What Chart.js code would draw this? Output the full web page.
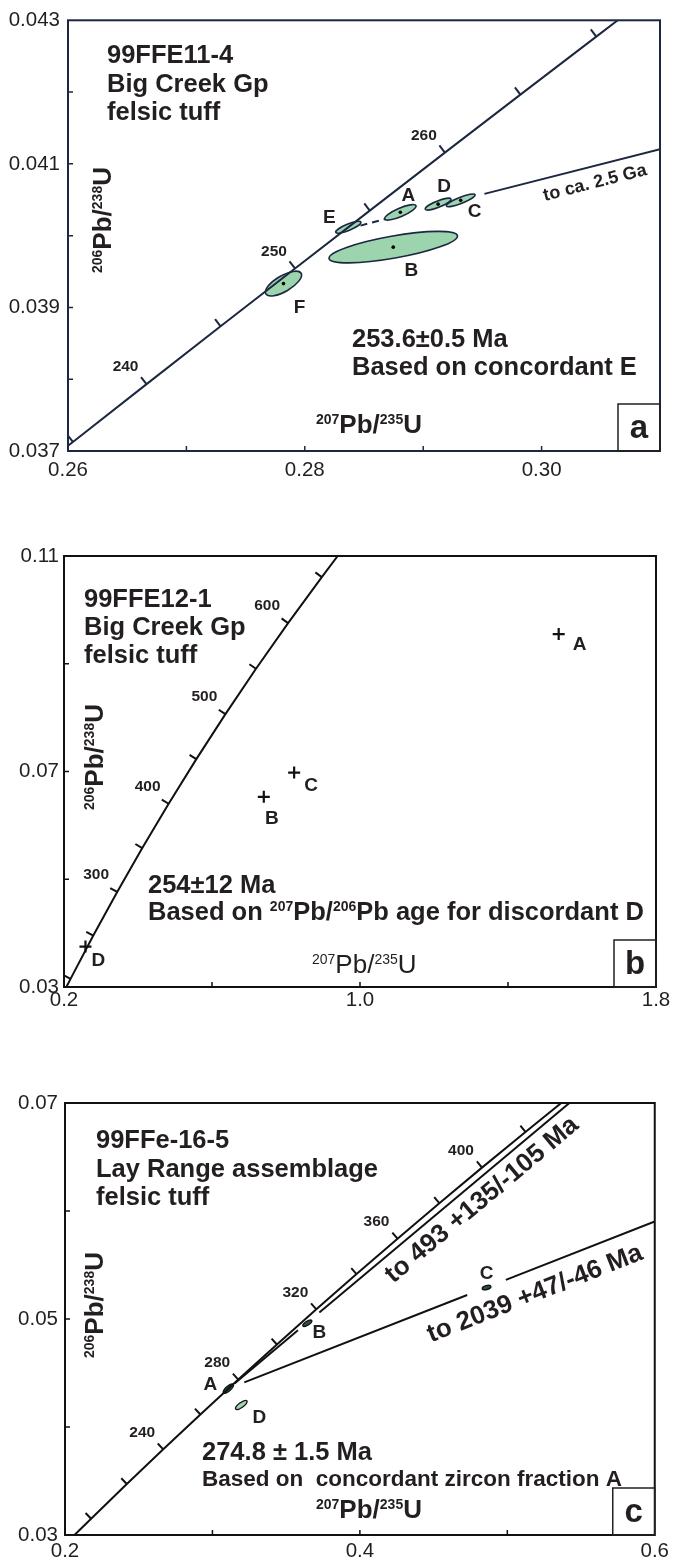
<!DOCTYPE html>
<html>
<head>
<meta charset="utf-8">
<title>U-Pb concordia diagrams</title>
<script src="https://cdn.jsdelivr.net/npm/chart.js@4.4.1/dist/chart.umd.min.js"></script>
<style>
  html, body { margin: 0; padding: 0; background: #fff; }
  body { width: 673px; height: 1564px; position: relative; overflow: hidden; }
  canvas { position: absolute; left: 0; }
</style>
</head>
<body>
<canvas id="chartA" width="673" height="505" style="top:0px"></canvas>
<canvas id="chartB" width="673" height="520" style="top:505px"></canvas>
<canvas id="chartC" width="673" height="539" style="top:1025px"></canvas>
<script>
// ---- panel a : 99FFE11-4 ----
const agesA = [235, 240, 245, 250, 255, 260, 265, 270];
const concXA = [0.260414, 0.266635, 0.272888, 0.279173, 0.285487, 0.291831, 0.298209, 0.304618];
const concYA = [0.037126, 0.037932, 0.038737, 0.039543, 0.040349, 0.041157, 0.041965, 0.042773];
const concEndsA = [[0.26, 0.037074], [0.30643, 0.043]];
const ageLabelsA = [240, 250, 260];
const fracA = ['A', 'B', 'C', 'D', 'E', 'F'];
const fracXA = [0.28807, 0.28747, 0.29317, 0.29126, 0.28368, 0.27820];
const fracYA = [0.040325, 0.039840, 0.040492, 0.040439, 0.040117, 0.039332];
const errXA = [0.001328, 0.005423, 0.00121, 0.001087, 0.001062, 0.001528];
const errYA = [0.000108, 0.0002195, 0.0000889, 0.0000821, 0.0000822, 0.000173];
const rhoA = [0.81, 0.70, 0.85, 0.82, 0.82, 0.69];
const dottedA = ['A', 'B', 'C', 'D', 'F'];
const discDashA = [[0.2847, 0.04014], [0.2868, 0.04023]];
const discSolidA = [[0.29517, 0.040582], [0.31, 0.041205]];

// ---- panel b : 99FFE12-1 ----
const agesB = [200, 250, 300, 350, 400, 450, 500, 550, 600, 650];
const concXB = [0.217708, 0.279173, 0.343737, 0.411564, 0.482811, 0.557659, 0.63628, 0.718875, 0.805631, 0.896771];
const concYB = [0.031511, 0.039543, 0.047638, 0.055795, 0.064016, 0.0723, 0.08065, 0.089065, 0.097545, 0.106089];
const concEndsB = [[0.206429, 0.03], [0.939723, 0.11]];
const ageLabelsB = [300, 400, 500, 600];
const fracB = ['A', 'B', 'C', 'D'];
const fracXB = [1.537, 0.740, 0.822, 0.258];
const fracYB = [0.0955, 0.0653, 0.0698, 0.0375];

// ---- panel c : 99FFe-16-5 ----
const agesC = [200, 220, 240, 260, 280, 300, 320, 340, 360, 380, 400, 420];
const concXC = [0.217708, 0.241931, 0.266635, 0.291831, 0.317528, 0.343737, 0.370467, 0.397729, 0.425534, 0.453891, 0.482811, 0.512308];
const concYC = [0.031511, 0.034717, 0.037932, 0.041157, 0.044392, 0.047638, 0.050893, 0.054159, 0.057433, 0.06072, 0.064016, 0.067322];
const concEndsC = [[0.206429, 0.03], [0.536571, 0.07]];
const ageLabelsC = [240, 280, 320, 360, 400];
const fracC = ['A', 'B', 'C', 'D'];
const fracXC = [0.3108, 0.36435, 0.48593, 0.31957];
const fracYC = [0.04355, 0.04961, 0.05291, 0.04204];
const errXC = [0.00353, 0.00311, 0.00296, 0.00399];
const errYC = [0.000426, 0.000289, 0.000208, 0.000417];
const rhoC = [0.74, 0.69, 0.41, 0.76];
const disc493C = [[[0.3150, 0.04403], [0.3580, 0.04895]], [[0.3725, 0.05060], [0.5421, 0.07]]];
const disc2039C = [[[0.3216, 0.04413], [0.4728, 0.05222]], [[0.4990, 0.05362], [0.6, 0.05903]]];

// ---- styling ----
const FONT = '"Liberation Sans", Arial, Helvetica, sans-serif';
const INK = '#231f20';
const NAVY = '#1c2740';
const GREEN = '#9cd4ae';
const DARKGREEN = '#2c5239';
const BIG = 25.5;

function font(size, bold) {
  return (bold ? 'bold ' : '') + size + 'px ' + FONT;
}

function xy(xs, ys) {
  return xs.map((x, i) => ({ x: x, y: ys[i] }));
}

function pairs(arr) {
  return arr.map(p => ({ x: p[0], y: p[1] }));
}

// concordia age ticks point away from the curve, square to it in pixel space
function tickAngle(ctx) {
  const pts = ctx.dataset.data, i = ctx.dataIndex;
  const a = pts[Math.max(i - 1, 0)], b = pts[Math.min(i + 1, pts.length - 1)];
  const xs = ctx.chart.scales.x, ys = ctx.chart.scales.y;
  const dx = xs.getPixelForValue(b.x) - xs.getPixelForValue(a.x);
  const dy = ys.getPixelForValue(b.y) - ys.getPixelForValue(a.y);
  return Math.atan2(dy, dx) * 180 / Math.PI - 90;
}

function line(points, color, width, dash) {
  return {
    data: points, showLine: true, borderColor: color, borderWidth: width,
    borderDash: dash || [], pointRadius: 0, tension: 0, fill: false
  };
}

function ageTicks(points, color, len) {
  return {
    data: points, showLine: false, pointStyle: 'dash', pointRadius: len,
    pointBorderWidth: 2, pointBorderColor: color, pointRotation: tickAngle
  };
}

// text with ^123 superscripts
function drawRich(ctx, str, x, y, o) {
  const size = o.size, sup = Math.round(size * 0.54);
  const parts = str.split(/(\^\d+)/).filter(Boolean)
    .map(p => p[0] === '^' ? { t: p.slice(1), s: true } : { t: p, s: false });
  ctx.save();
  ctx.translate(x, y);
  if (o.angle) ctx.rotate(o.angle);
  ctx.fillStyle = o.color || INK;
  ctx.textAlign = 'left';
  ctx.textBaseline = o.baseline || 'alphabetic';
  let total = 0;
  parts.forEach(p => {
    ctx.font = font(p.s ? sup : size, o.bold);
    p.w = ctx.measureText(p.t).width;
    total += p.w;
  });
  let cx = o.align === 'center' ? -total / 2 : 0;
  parts.forEach(p => {
    ctx.font = font(p.s ? sup : size, o.bold);
    ctx.fillText(p.t, cx, p.s ? -size * 0.34 : 0);
    cx += p.w;
  });
  ctx.restore();
}

function decor(spec) {
  return {
    id: 'decor',
    beforeDatasetsDraw(chart) {
      const e = spec.ellipses;
      if (!e) return;
      const { ctx, chartArea: ca, scales: { x: xs, y: ys } } = chart;
      ctx.save();
      ctx.beginPath();
      ctx.rect(ca.left, ca.top, ca.width, ca.height);
      ctx.clip();
      e.xs.forEach((xv, i) => {
        const cx = xs.getPixelForValue(xv), cy = ys.getPixelForValue(e.ys[i]);
        const sx = Math.abs(xs.getPixelForValue(xv + e.sx[i]) - cx);
        const sy = Math.abs(ys.getPixelForValue(e.ys[i] + e.sy[i]) - cy);
        const cxx = sx * sx, cyy = sy * sy, cxy = -e.rho[i] * sx * sy;
        const mid = (cxx + cyy) / 2;
        const d = Math.sqrt(((cxx - cyy) / 2) ** 2 + cxy * cxy);
        const ang = 0.5 * Math.atan2(2 * cxy, cxx - cyy);
        ctx.beginPath();
        ctx.ellipse(cx, cy, Math.sqrt(mid + d), Math.sqrt(Math.max(mid - d, 0.5)), ang, 0, Math.PI * 2);
        ctx.fillStyle = e.fill[i];
        ctx.fill();
        ctx.lineWidth = e.width;
        ctx.strokeStyle = e.stroke;
        ctx.stroke();
      });
      ctx.restore();
    },
    afterDatasetsDraw(chart) {
      const { ctx, chartArea: ca, scales: { x: xs, y: ys } } = chart;
      ctx.save();
      ctx.strokeStyle = spec.color;
      ctx.lineWidth = 2;
      ctx.strokeRect(ca.left, ca.top, ca.width, ca.height);

      // short inward tick marks
      ctx.lineWidth = 1.5;
      ctx.beginPath();
      xs.ticks.forEach(t => {
        if (t.value <= xs.min || t.value >= xs.max) return;
        const px = xs.getPixelForValue(t.value);
        ctx.moveTo(px, ca.bottom);
        ctx.lineTo(px, ca.bottom - 5);
      });
      ys.ticks.forEach(t => {
        if (t.value <= ys.min || t.value >= ys.max) return;
        const py = ys.getPixelForValue(t.value);
        ctx.moveTo(ca.left, py);
        ctx.lineTo(ca.left + 5, py);
      });
      ctx.stroke();

      // panel letter box
      ctx.lineWidth = 1.5;
      ctx.strokeStyle = INK;
      ctx.strokeRect(ca.right - 42, ca.bottom - 47, 42, 47);
      ctx.restore();
      drawRich(ctx, spec.letter, ca.right - 21, ca.bottom - 22, { size: 33, bold: true, align: 'center', baseline: 'middle' });

      const a = spec.ageLabels;
      a.show.forEach(age => {
        const i = a.ages.indexOf(age);
        drawRich(ctx, String(age),
          xs.getPixelForValue(a.xs[i]) + a.offset[0], ys.getPixelForValue(a.ys[i]) + a.offset[1],
          { size: 15.5, bold: true, align: 'center', baseline: 'middle' });
      });

      const p = spec.pointLabels;
      p.names.forEach((n, i) => {
        drawRich(ctx, n,
          xs.getPixelForValue(p.xs[i]) + p.offsets[i][0], ys.getPixelForValue(p.ys[i]) + p.offsets[i][1],
          { size: 19, bold: true, align: 'center', baseline: 'middle' });
      });

      spec.texts.forEach(t => {
        let angle = (t.angle || 0) * Math.PI / 180;
        if (t.along) {
          const [u, v] = t.along;
          angle = Math.atan2(ys.getPixelForValue(v[1]) - ys.getPixelForValue(u[1]),
                             xs.getPixelForValue(v[0]) - xs.getPixelForValue(u[0]));
        }
        drawRich(ctx, t.t, t.x, t.y, {
          size: t.size, bold: t.bold !== false, align: t.align || 'left',
          baseline: t.baseline || 'alphabetic', angle: angle
        });
      });
    }
  };
}

function axis(a, dir) {
  return {
    type: 'linear', min: a.min, max: a.max,
    grid: { display: false, drawTicks: false },
    border: { display: false },
    afterFit: s => { if (dir === 'x') s.height = a.size; else s.width = a.size; },
    ticks: {
      stepSize: a.step, autoSkip: false, maxRotation: 0, minRotation: 0, padding: a.pad,
      color: INK, font: { family: FONT, size: 20.5 },
      callback: (v, i) => (i % 2 ? '' : Number(v).toFixed(a.digits))
    }
  };
}

function concordiaChart(id, cfg) {
  return new Chart(document.getElementById(id), {
    type: 'scatter',
    data: { datasets: cfg.datasets },
    options: {
      responsive: false,
      animation: false,
      events: [],
      layout: { padding: cfg.padding },
      plugins: { legend: { display: false }, tooltip: { enabled: false } },
      scales: { x: axis(cfg.x, 'x'), y: axis(cfg.y, 'y') }
    },
    plugins: [decor(cfg.decor)]
  });
}

// ---- a ----
const concPtsA = xy(concXA, concYA);
concordiaChart('chartA', {
  padding: { top: 17, right: 13, bottom: 14, left: 0 },
  x: { min: 0.26, max: 0.31, step: 0.01, digits: 2, size: 40, pad: 7 },
  y: { min: 0.037, max: 0.043, step: 0.001, digits: 3, size: 68, pad: 8 },
  datasets: [
    {
      data: xy(fracXA, fracYA).filter((p, i) => dottedA.includes(fracA[i])),
      showLine: false, pointRadius: 1.8, pointBackgroundColor: '#000', pointBorderWidth: 0
    },
    line([pairs(concEndsA)[0], ...concPtsA, pairs(concEndsA)[1]], NAVY, 2),
    ageTicks(concPtsA, NAVY, 9),
    line(pairs(discDashA), NAVY, 2, [7, 5]),
    line(pairs(discSolidA), NAVY, 2)
  ],
  decor: {
    letter: 'a',
    color: NAVY,
    ellipses: {
      xs: fracXA, ys: fracYA, sx: errXA, sy: errYA, rho: rhoA,
      fill: fracA.map(() => GREEN), stroke: NAVY, width: 1.6
    },
    ageLabels: { ages: agesA, xs: concXA, ys: concYA, show: ageLabelsA, offset: [-21, -17] },
    pointLabels: {
      names: fracA, xs: fracXA, ys: fracYA,
      offsets: [[8, -17], [18, 24], [14, 11], [6, -17], [-19, -9], [16, 24]]
    },
    texts: [
      { t: '99FFE11-4', x: 107, y: 63, size: BIG },
      { t: 'Big Creek Gp', x: 107, y: 92, size: BIG },
      { t: 'felsic tuff', x: 107, y: 120, size: BIG },
      { t: '253.6±0.5 Ma', x: 352, y: 347, size: BIG },
      { t: 'Based on concordant E', x: 352, y: 375, size: BIG },
      { t: '^207Pb/^235U', x: 316, y: 433, size: 26 },
      { t: '^206Pb/^238U', x: 111, y: 273, size: 26, angle: -90 },
      { t: 'to ca. 2.5 Ga', x: 595, y: 183, size: 18, align: 'center', baseline: 'middle', along: discSolidA }
    ]
  }
});

// ---- b ----
const concPtsB = xy(concXB, concYB);
concordiaChart('chartB', {
  padding: { top: 51, right: 17, bottom: 8, left: 0 },
  x: { min: 0.2, max: 1.8, step: 0.4, digits: 1, size: 30, pad: 1 },
  y: { min: 0.03, max: 0.11, step: 0.02, digits: 2, size: 64, pad: 5 },
  datasets: [
    {
      data: xy(fracXB, fracYB), showLine: false, pointStyle: 'cross',
      pointRadius: 6, pointBorderWidth: 2.2, pointBorderColor: '#111'
    },
    line([pairs(concEndsB)[0], ...concPtsB, pairs(concEndsB)[1]], '#111', 2),
    ageTicks(concPtsB, '#111', 8)
  ],
  decor: {
    letter: 'b',
    color: '#111',
    ageLabels: { ages: agesB, xs: concXB, ys: concYB, show: ageLabelsB, offset: [-21, -17] },
    pointLabels: {
      names: fracB, xs: fracXB, ys: fracYB,
      offsets: [[21, 11], [8, 22], [17, 13], [13, 14]]
    },
    texts: [
      { t: '99FFE12-1', x: 84, y: 102, size: BIG },
      { t: 'Big Creek Gp', x: 84, y: 130, size: BIG },
      { t: 'felsic tuff', x: 84, y: 158, size: BIG },
      { t: '254±12 Ma', x: 148, y: 388, size: BIG },
      { t: 'Based on ^207Pb/^206Pb age for discordant D', x: 148, y: 415, size: BIG },
      { t: '^207Pb/^235U', x: 312, y: 468, size: 26, bold: false },
      { t: '^206Pb/^238U', x: 103, y: 305, size: 26, angle: -90 }
    ]
  }
});

// ---- c ----
const concPtsC = xy(concXC, concYC);
concordiaChart('chartC', {
  padding: { top: 78, right: 16, bottom: 5, left: 0 },
  x: { min: 0.2, max: 0.6, step: 0.1, digits: 1, size: 24, pad: 4 },
  y: { min: 0.03, max: 0.07, step: 0.01, digits: 2, size: 65, pad: 7 },
  datasets: [
    line([pairs(concEndsC)[0], ...concPtsC, pairs(concEndsC)[1]], '#111', 2),
    ageTicks(concPtsC, '#111', 8),
    line(pairs(disc493C[0]), '#111', 2),
    line(pairs(disc493C[1]), '#111', 2),
    line(pairs(disc2039C[0]), '#111', 2),
    line(pairs(disc2039C[1]), '#111', 2)
  ],
  decor: {
    letter: 'c',
    color: '#111',
    ellipses: {
      xs: fracXC, ys: fracYC, sx: errXC, sy: errYC, rho: rhoC,
      fill: [DARKGREEN, DARKGREEN, DARKGREEN, GREEN], stroke: '#111', width: 1.3
    },
    ageLabels: { ages: agesC, xs: concXC, ys: concYC, show: ageLabelsC, offset: [-21, -17] },
    pointLabels: {
      names: fracC, xs: fracXC, ys: fracYC,
      offsets: [[-18, -4], [12, 10], [0, -14], [18, 13]]
    },
    texts: [
      { t: '99FFe-16-5', x: 96, y: 123, size: BIG },
      { t: 'Lay Range assemblage', x: 96, y: 152, size: BIG },
      { t: 'felsic tuff', x: 96, y: 180, size: BIG },
      { t: '274.8 ± 1.5 Ma', x: 202, y: 435, size: BIG },
      { t: 'Based on  concordant zircon fraction A', x: 202, y: 461, size: 22.5 },
      { t: '^207Pb/^235U', x: 316, y: 493, size: 26 },
      { t: '^206Pb/^238U', x: 103, y: 333, size: 26, angle: -90 },
      { t: 'to 493 +135/-105 Ma', x: 482, y: 175, size: 26, align: 'center', baseline: 'middle', along: disc493C[1] },
      { t: 'to 2039 +47/-46 Ma', x: 535, y: 269, size: 26, align: 'center', baseline: 'middle', along: disc2039C[1] }
    ]
  }
});
</script>
</body>
</html>
